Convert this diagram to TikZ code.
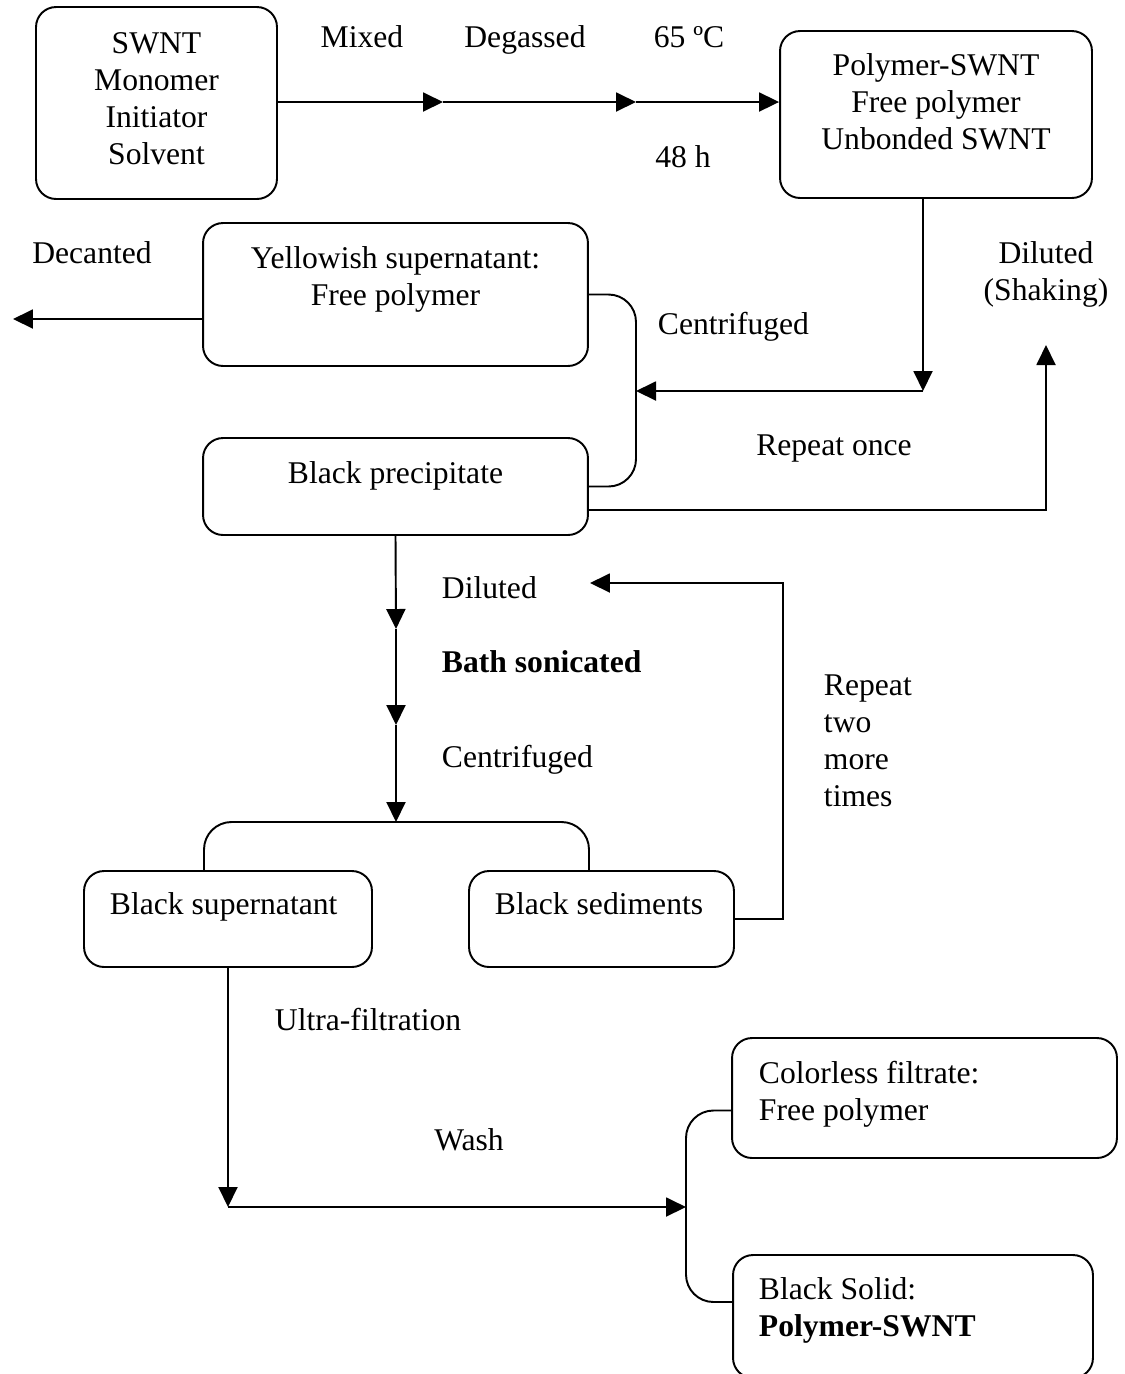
\documentclass[tikz,border=0pt]{standalone}
\usepackage{fontspec}
\setmainfont{Liberation Serif}
\usetikzlibrary{arrows.meta}

\begin{document}
\begin{tikzpicture}
	[
		x=0.02cm, y=-0.02cm, line width=1.1pt,
		font=\fontsize{18}{21}\selectfont,
		box/.style = {shape=rectangle, draw, rounded corners=0.4cm, anchor=center, inner sep=0pt},
		lbl/.style = {inner sep=0pt, anchor=base},
		lblw/.style = {lbl, anchor=base west},
		flow/.style = {-{Triangle[length=0.4cm, width=0.38cm]}},
		brace/.style = {rounded corners=0.55cm}
	]

	\useasboundingbox (0,0) rectangle (1125,1374);

	% boxes
	\node [box, minimum width=4.82cm, minimum height=3.84cm] (feed) at (156.5,103) {};
	\node [box, minimum width=6.24cm, minimum height=3.34cm] (product) at (936,114.5) {};
	\node [box, minimum width=7.70cm, minimum height=2.86cm] (yellow) at (395.5,294.5) {};
	\node [box, minimum width=7.70cm, minimum height=1.94cm] (precip) at (395.5,486.5) {};
	\node [box, minimum width=5.76cm, minimum height=1.92cm] (blacksup) at (228,919) {};
	\node [box, minimum width=5.30cm, minimum height=1.92cm] (sediment) at (601.5,919) {};
	\node [box, minimum width=7.70cm, minimum height=2.40cm] (filtrate) at (924.5,1098) {};
	\node [box, minimum width=7.20cm, minimum height=2.46cm] (solid) at (913,1316.5) {};

	% box texts (multi-line ones sit on their last line)
	\node [lbl, align=center] (feedtxt) at (156.5,164) {SWNT\\Monomer\\Initiator\\Solvent};
	\node [lbl, align=center] (producttxt) at (936,149) {Polymer-SWNT\\Free polymer\\Unbonded SWNT};
	\node [lbl, align=center] (yellowtxt) at (395.5,305) {Yellowish supernatant:\\Free polymer};
	\node [lbl] (preciptxt) at (395.5,483) {Black precipitate};
	\node [lblw] (blacksuptxt) at (109,914) {Black supernatant};
	\node [lblw] (sedimenttxt) at (494,914) {Black sediments};
	\node [lblw, align=left] (filtratetxt) at (758,1120) {Colorless filtrate:\\Free polymer};
	\node [lblw, align=left] (solidtxt) at (758,1336) {Black Solid:\\\textbf{Polymer-SWNT}};

	% step labels
	\node [lbl] (mixed) at (362,47) {Mixed};
	\node [lbl] (degassed) at (525,47) {Degassed};
	\node [lbl] (temp) at (689,47) {65 ºC};
	\node [lbl] (time) at (683,167) {48 h};
	\node [lbl] (decanted) at (92,263) {Decanted};
	\node [lblw] (centri) at (657,334) {Centrifuged};
	\node [lbl, align=center] (shaking) at (1046,300) {Diluted\\(Shaking)};
	\node [lbl] (once) at (834,455) {Repeat once};
	\node [lblw] (diluted) at (441,598) {Diluted};
	\node [lblw, font=\fontsize{18}{21}\selectfont\bfseries] (sonic) at (441,672) {Bath sonicated};
	\node [lblw] (centrii) at (441,767) {Centrifuged};
	\node [lblw, align=left] (twice) at (823,806) {Repeat\\two\\more\\times};
	\node [lblw] (ultra) at (274,1030) {Ultra-filtration};
	\node [lbl] (wash) at (469,1150) {Wash};

	% junctions
	\coordinate (m1) at (443,102);
	\coordinate (m2) at (636,102);
	\coordinate (dn) at (923,391);
	\coordinate (cf) at (636,391);
	\coordinate (out) at (13,319);
	\coordinate (dil) at (1046,345);
	\coordinate (d1) at (396,629);
	\coordinate (d2) at (396,725);
	\coordinate (split) at (396,822);
	\coordinate (corner) at (783,583);
	\coordinate (back) at (590,583);
	\coordinate (w1) at (228,1207);
	\coordinate (w2) at (686,1207);

	% first row
	\draw [flow] (feed.east |- m1) -- (m1);
	\draw [flow] (m1) -- (m2);
	\draw [flow] (m2) -- (m2 -| product.west);

	% centrifuge loop
	\draw [flow] (dn |- product.south) -- (dn);
	\draw [flow] (dn) -- (cf);
	\draw [brace] (yellow.east) -| (cf) |- (precip.east);
	\draw [flow] (yellow.west |- out) -- (out);
	\draw [flow] (precip.east) ++(0,23.5) -| (dil);

	% sonication
	\draw [flow] (precip.south) -- (d1);
	\draw [flow] (d1) -- (d2);
	\draw [flow] (d2) -- (split);
	\draw [brace] ([xshift=-0.48cm]blacksup.north) |- (split) -| ([xshift=-0.25cm]sediment.north);
	\draw [flow] (sediment.east) -| (corner) -- (back);

	% filtration
	\draw [flow] (blacksup.south) -- (w1);
	\draw [flow] (w1) -- (w2);
	\draw [brace] ([yshift=-0.25cm]filtrate.west) -| (w2) |- ([yshift=0.29cm]solid.west);

\end{tikzpicture}
\end{document}
